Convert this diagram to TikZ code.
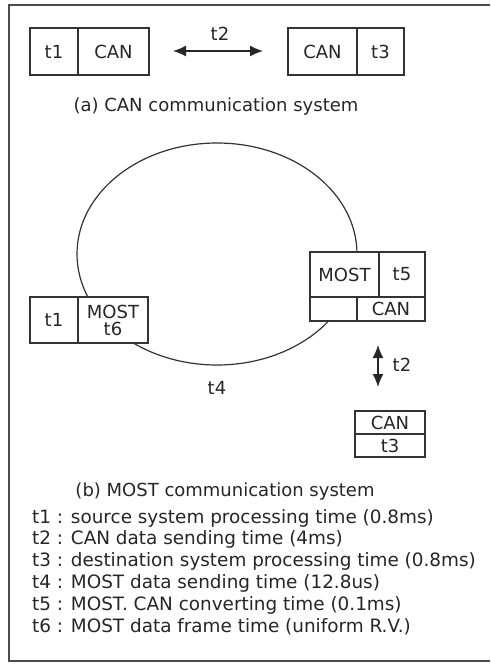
\documentclass[tikz,border=0pt]{standalone}
\usepackage{fontspec}
\setmainfont{DejaVu Sans}
\usetikzlibrary{arrows.meta}

\begin{document}
\begin{tikzpicture}[x=1pt,y=1pt]
\tikzstyle{every node}+=[inner sep=0pt, text=black!85, font=\fontsize{18}{22}\selectfont]
\tikzstyle{cell}=[draw=black!80, line width=1.3pt, fill=white, minimum height=47pt]
\tikzstyle{twoway}=[black!85, line width=1.4pt, {Latex[length=13pt,width=11pt]}-{Latex[length=13pt,width=11pt]}]
\useasboundingbox (0,0) rectangle (490,-664);
\draw [black!70, line width=1.4pt] (490,-5) -- (9,-5) -- (9,-661) -- (490,-661);
% (a) CAN
\node [cell, minimum width=48pt] (srcT) at (54,-51.5) {t1};
\node [cell, minimum width=71pt] (srcCan) at (113.5,-51.5) {CAN};
\node [cell, minimum width=69pt] (dstCan) at (322.5,-51.5) {CAN};
\node [cell, minimum width=47pt] (dstT) at (380.5,-51.5) {t3};
\coordinate (busL) at (173,-51);
\coordinate (busR) at (263,-51);
\draw [twoway] (busL) -- (busR);
\node (canTime) at (220,-34) {t2};
\node (capA) at (216,-107) {(a) CAN communication system};
% (b) MOST
\draw [black!80, line width=1.2pt] (217,-254) ellipse (140 and 111);
\node [cell, minimum width=69pt, minimum height=45pt] (gwMost) at (344.5,-274.5) {MOST};
\node [cell, minimum width=46pt, minimum height=45pt] (gwT) at (402,-274.5) {t5};
\node [cell, minimum width=47pt, minimum height=24pt] (gwBlank) at (333.5,-309) {};
\node [cell, minimum width=68pt, minimum height=24pt] (gwCan) at (391,-309) {CAN};
\node [cell, minimum width=48pt, minimum height=46pt] (srcT2) at (54,-320) {t1};
\node [cell, minimum width=70pt, minimum height=46pt, align=center, font=\fontsize{18}{17}\selectfont] (srcMost) at (113,-320) {MOST\\t6};
\coordinate (gwDown) at (378,-345);
\coordinate (dstUp) at (378,-387);
\draw [twoway] (gwDown) -- (dstUp);
\node (canTime2) at (402,-365) {t2};
\node (mostTime) at (217,-388) {t4};
\node [cell, minimum width=70pt, minimum height=23pt] (dstCan2) at (390,-422.5) {CAN};
\node [cell, minimum width=70pt, minimum height=23pt] (dstT2) at (390,-445.5) {t3};
\node (capB) at (225,-492) {(b) MOST communication system};
% legend
\foreach \i/\txt in {1/source system processing time (0.8ms),
                     2/CAN data sending time (4ms),
                     3/destination system processing time (0.8ms),
                     4/MOST data sending time (12.8us),
                     5/MOST. CAN converting time (0.1ms),
                     6/MOST data frame time (uniform R.V.)}
  \node [anchor=west, font=\fontsize{18.4}{22}\selectfont] (def\i) at (32,{-518-21.8*(\i-1)}) {t\i\ : \txt};
\end{tikzpicture}
\end{document}
